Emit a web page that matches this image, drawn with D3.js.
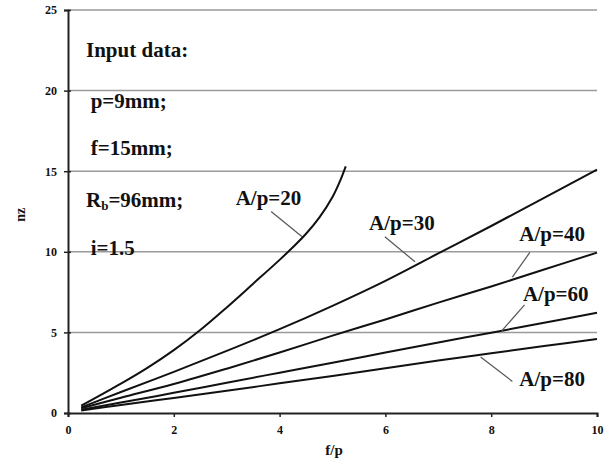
<!DOCTYPE html>
<html><head><meta charset="utf-8">
<script src="https://cdn.jsdelivr.net/npm/d3@7"></script>
<style>body{margin:0;background:#fff}svg{display:block}</style>
</head><body>
<svg id="c" width="608" height="459"></svg>
<script>
// ---- data ----
const xTicks = [0, 2, 4, 6, 8, 10];
const yTicks = [0, 5, 10, 15, 20, 25];
const seriesNames = ["A/p=20", "A/p=30", "A/p=40", "A/p=60", "A/p=80"];
const x20 = [0.25, 1, 1.5, 2, 2.5, 3, 3.5, 4, 4.25, 4.5, 4.75, 5, 5.15, 5.25];
const y20 = [0.45, 1.82, 2.8, 3.9, 5.15, 6.55, 8.02, 9.5, 10.28, 11.12, 12.12, 13.4, 14.45, 15.3];
const xLin = [0.25, 1, 2, 3, 4, 5, 6, 7, 8, 9, 10];
const y30 = [0.35, 1.3, 2.55, 3.85, 5.2, 6.65, 8.2, 9.9, 11.6, 13.35, 15.1];
const y40 = [0.3, 0.95, 1.8, 2.75, 3.75, 4.8, 5.8, 6.85, 7.85, 8.9, 9.95];
const y60 = [0.2, 0.65, 1.25, 1.88, 2.5, 3.12, 3.75, 4.38, 4.98, 5.6, 6.22];
const y80 = [0.15, 0.5, 0.93, 1.38, 1.84, 2.3, 2.78, 3.25, 3.7, 4.15, 4.59];
const inputLines = ["Input data:", "p=9mm;", "f=15mm;", "R|b|=96mm;", "i=1.5"];
const xTitle = "f/p";
const yTitle = "nz";

// ---- layout ----
const svg = d3.select("#c");
const L = 68, R = 597, T = 10, B = 413;
const x = d3.scaleLinear().domain([0, 10]).range([L, R]);
const y = d3.scaleLinear().domain([0, 25]).range([B, T]);
const serif = "'Liberation Serif','Times New Roman',serif";
const ink = "#111";

// grid
svg.append("g").selectAll("line").data(yTicks.filter(d => d > 0)).join("line")
  .attr("x1", L).attr("x2", R).attr("y1", d => y(d)).attr("y2", d => y(d))
  .attr("stroke", "#9a9a9a").attr("stroke-width", 1.5);

// axes
const gx = svg.append("g").attr("transform", `translate(0,${B})`)
  .call(d3.axisBottom(x).tickValues(xTicks).tickFormat(d3.format("d")).tickSize(4).tickPadding(8));
const gy = svg.append("g").attr("transform", `translate(${L},0)`)
  .call(d3.axisLeft(y).tickValues(yTicks).tickFormat(d3.format("d")).tickSize(4).tickPadding(7));
[gx, gy].forEach(g => {
  g.select(".domain").attr("stroke", "#222").attr("stroke-width", 2);
  g.selectAll(".tick line").attr("stroke", "#222").attr("stroke-width", 1.5);
  g.selectAll(".tick text").attr("font-family", serif).attr("font-weight", "bold")
    .attr("font-size", 12).attr("fill", ink);
});
gy.selectAll(".tick line").attr("x2", -4).attr("x1", 3);

// axis titles
svg.append("text").attr("x", x(5.03)).attr("y", 455).attr("text-anchor", "middle")
  .attr("font-family", serif).attr("font-weight", "bold").attr("font-size", 15).attr("fill", ink).text(xTitle);
svg.append("text").attr("transform", `translate(25,${y(12.3)}) rotate(-90)`).attr("text-anchor", "middle")
  .attr("font-family", serif).attr("font-weight", "bold").attr("font-size", 14).attr("fill", ink).text(yTitle);

// series
const series = [
  { name: seriesNames[0], xs: x20, ys: y20 },
  { name: seriesNames[1], xs: xLin, ys: y30 },
  { name: seriesNames[2], xs: xLin, ys: y40 },
  { name: seriesNames[3], xs: xLin, ys: y60 },
  { name: seriesNames[4], xs: xLin, ys: y80 }
];
const line = d3.line().x(d => x(d[0])).y(d => y(d[1])).curve(d3.curveCatmullRom.alpha(0.5));
svg.append("g").selectAll("path").data(series).join("path")
  .attr("d", s => line(s.xs.map((v, i) => [v, s.ys[i]])))
  .attr("fill", "none").attr("stroke", ink).attr("stroke-width", 2);

// annotations (data coordinates)
const ann = [
  { t: seriesNames[0], tx: 3.17, ty: 12.91, a: [3.84, 12.5], b: [4.42, 10.95] },
  { t: seriesNames[1], tx: 5.69, ty: 11.36, a: [5.99, 10.93], b: [6.56, 9.38] },
  { t: seriesNames[2], tx: 8.53, ty: 10.70, a: [8.73, 9.96], b: [8.40, 8.43] },
  { t: seriesNames[3], tx: 8.60, ty: 6.92, a: [8.63, 6.71], b: [8.19, 5.06] },
  { t: seriesNames[4], tx: 8.53, ty: 1.65, a: [7.80, 3.47], b: [8.40, 1.96] }
];
svg.append("g").selectAll("line").data(ann).join("line")
  .attr("x1", d => x(d.a[0])).attr("y1", d => y(d.a[1]))
  .attr("x2", d => x(d.b[0])).attr("y2", d => y(d.b[1]))
  .attr("stroke", "#555").attr("stroke-width", 1.2);
svg.append("g").selectAll("text").data(ann).join("text")
  .attr("x", d => x(d.tx)).attr("y", d => y(d.ty))
  .attr("font-family", serif).attr("font-weight", "bold").attr("font-size", 21).attr("fill", ink)
  .text(d => d.t);

// input data text block
const inPos = [[86, 56.7], [90.7, 108], [90.7, 155], [86, 206.7], [90.7, 255]];
const tg = svg.append("g").attr("font-family", serif).attr("font-weight", "bold")
  .attr("font-size", 21).attr("fill", ink);
inputLines.forEach((s, i) => {
  const t = tg.append("text").attr("x", inPos[i][0]).attr("y", inPos[i][1]);
  const parts = s.split("|");
  if (parts.length === 3) {
    t.append("tspan").text(parts[0]);
    t.append("tspan").attr("font-size", 13).attr("dy", 3).text(parts[1]);
    t.append("tspan").attr("dy", -3).text(parts[2]);
  } else t.text(s);
});
</script>
</body></html>
